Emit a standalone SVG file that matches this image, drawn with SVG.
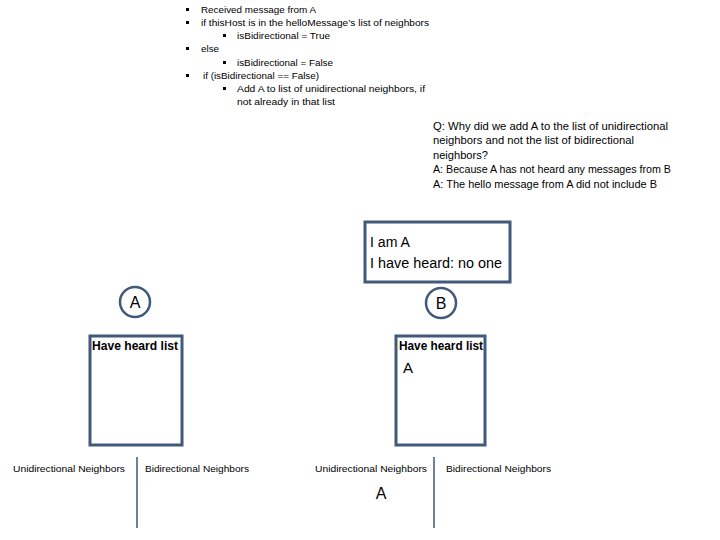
<svg xmlns="http://www.w3.org/2000/svg" width="720" height="540" viewBox="0 0 720 540">
<style>
text{font-family:"Liberation Sans","DejaVu Sans",sans-serif;fill:#000}
.s{font-size:9.5px}
.q{font-size:11px}
.n{font-size:9.5px}
.box{fill:#fff;stroke:#41597a;stroke-width:3}
.circ{fill:#fff;stroke:#41597a;stroke-width:2.5}
.hh{font-size:12px;font-weight:bold}
.line{stroke:#41597a;stroke-width:1.5}
</style>
<rect width="720" height="540" fill="#fff"/>
<g id="algorithm">
<g fill="#000">
<rect x="186" y="8" width="3" height="3"/>
<rect x="186" y="21" width="3" height="3"/>
<rect x="223" y="34" width="3" height="3"/>
<rect x="186" y="47" width="3" height="3"/>
<rect x="223" y="61" width="3" height="3"/>
<rect x="186" y="74" width="3" height="3"/>
<rect x="223" y="87" width="3" height="3"/>
</g>
<text class="s" x="201" y="13" textLength="115" lengthAdjust="spacingAndGlyphs">Received message from A</text>
<text class="s" x="201" y="26" textLength="228" lengthAdjust="spacingAndGlyphs">if thisHost is in the helloMessage’s list of neighbors</text>
<text class="s" x="237" y="39" textLength="93" lengthAdjust="spacingAndGlyphs">isBidirectional = True</text>
<text class="s" x="201" y="52" textLength="18" lengthAdjust="spacingAndGlyphs">else</text>
<text class="s" x="237" y="66" textLength="96" lengthAdjust="spacingAndGlyphs">isBidirectional = False</text>
<text class="s" x="203" y="79" textLength="116" lengthAdjust="spacingAndGlyphs">if (isBidirectional == False)</text>
<text class="s" x="237" y="92" textLength="188" lengthAdjust="spacingAndGlyphs">Add A to list of unidirectional neighbors, if</text>
<text class="s" x="237" y="105" textLength="98" lengthAdjust="spacingAndGlyphs">not already in that list</text>
</g>
<g id="qa">
<text class="q" x="433" y="130" textLength="235" lengthAdjust="spacingAndGlyphs">Q: Why did we add A to the list of unidirectional</text>
<text class="q" x="433" y="144" textLength="201" lengthAdjust="spacingAndGlyphs">neighbors and not the list of bidirectional</text>
<text class="q" x="433" y="159" textLength="55" lengthAdjust="spacingAndGlyphs">neighbors?</text>
<text class="q" x="433" y="173" textLength="238" lengthAdjust="spacingAndGlyphs">A: Because A has not heard any messages from B</text>
<text class="q" x="433" y="188" textLength="224" lengthAdjust="spacingAndGlyphs">A: The hello message from A did not include B</text>
</g>
<g id="message">
<rect class="box" x="365" y="222" width="145" height="60"/>
<text x="370" y="247" font-size="14" textLength="40" lengthAdjust="spacingAndGlyphs">I am A</text>
<text x="370" y="268" font-size="14" textLength="132" lengthAdjust="spacingAndGlyphs">I have heard: no one</text>
</g>
<g id="nodeA">
<circle class="circ" cx="135" cy="302" r="15"/>
<text x="135" y="308" font-size="16" text-anchor="middle">A</text>
</g>
<g id="nodeB">
<circle class="circ" cx="441" cy="303" r="15"/>
<text x="441" y="309" font-size="16" text-anchor="middle">B</text>
</g>
<g id="listA">
<rect class="box" x="90" y="336" width="92" height="109"/>
<text class="hh" x="92" y="350" textLength="86" lengthAdjust="spacingAndGlyphs">Have heard list</text>
</g>
<g id="listB">
<rect class="box" x="396" y="336" width="89" height="109"/>
<text class="hh" x="399" y="350" textLength="84" lengthAdjust="spacingAndGlyphs">Have heard list</text>
<text x="403" y="373" font-size="15">A</text>
</g>
<g id="tableA">
<text class="n" x="13" y="472" textLength="112" lengthAdjust="spacingAndGlyphs">Unidirectional Neighbors</text>
<text class="n" x="145" y="472" textLength="104" lengthAdjust="spacingAndGlyphs">Bidirectional Neighbors</text>
</g>
<g id="tableB">
<text class="n" x="315" y="472" textLength="112" lengthAdjust="spacingAndGlyphs">Unidirectional Neighbors</text>
<text class="n" x="446" y="472" textLength="105" lengthAdjust="spacingAndGlyphs">Bidirectional Neighbors</text>
<text x="381" y="499" font-size="16" text-anchor="middle">A</text>
</g>
<g id="connectors">
<line class="line" x1="137" y1="457" x2="137" y2="528"/>
<line class="line" x1="434" y1="457" x2="434" y2="528"/>
</g>
</svg>
